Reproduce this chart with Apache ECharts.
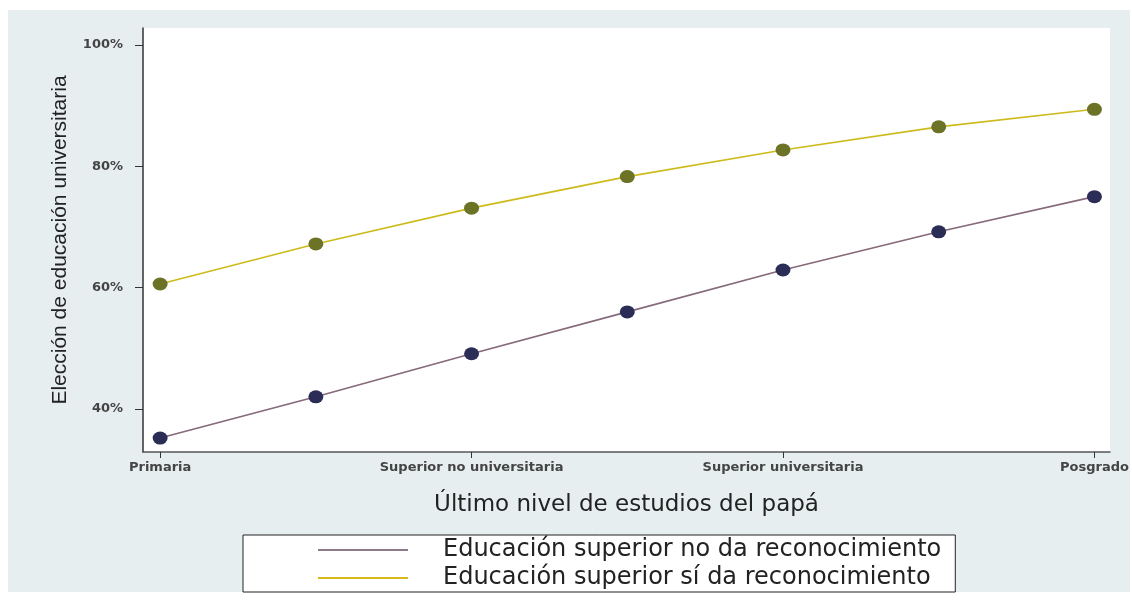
<!DOCTYPE html>
<html>
<head>
<meta charset="utf-8">
<script src="https://cdn.jsdelivr.net/npm/echarts@6/dist/echarts.min.js"></script>
<style>
  body { margin: 0; background: #fff; }
  #bg { position: absolute; left: 8px; top: 10px; width: 1122px; height: 582px; background: #e7eef0; }
  #chart { position: absolute; left: 0; top: 0; width: 1132px; height: 600px; }
</style>
</head>
<body>
<div id="bg"></div>
<div id="chart"></div>
<script>
// niveles del papá (posición en el eje x) y etiquetas de los ticks
var levelX = [1, 1.5, 2, 2.5, 3, 3.5, 4];
var levelTicks = [1, 2, 3, 4];
var levelLabels = ['Primaria', 'Superior no universitaria', 'Superior universitaria', 'Posgrado'];
var yTicks = [40, 60, 80, 100];

var seriesNames = ['Educación superior no da reconocimiento', 'Educación superior sí da reconocimiento'];
var noReconocimiento = [35.2, 42.0, 49.1, 56.0, 62.9, 69.2, 75.0];
var siReconocimiento = [60.6, 67.2, 73.1, 78.3, 82.7, 86.5, 89.4];

function pairs(xs, ys) {
    return xs.map(function (x, i) { return [x, ys[i]]; });
}

var myChart = echarts.init(document.getElementById('chart'));

var option = {
    backgroundColor: 'transparent',
    textStyle: { fontFamily: 'DejaVu Sans' },
    grid: {
        left: 143,
        top: 28,
        right: 22,
        bottom: 148,
        show: true,
        backgroundColor: '#ffffff',
        borderWidth: 0
    },
    xAxis: {
        type: 'value',
        min: 0.945,
        max: 4.05,
        name: 'Último nivel de estudios del papá',
        nameLocation: 'middle',
        nameGap: 42,
        nameTextStyle: { fontSize: 23, color: '#222', fontFamily: 'DejaVu Sans' },
        axisLine: { show: true, onZero: false, lineStyle: { color: '#555', width: 1.5 } },
        axisTick: { show: true, length: 6, customValues: levelTicks, lineStyle: { color: '#333' } },
        axisLabel: {
            customValues: levelTicks,
            margin: 9,
            fontSize: 13,
            fontWeight: 'bold',
            color: '#444',
            formatter: function (v) { return levelLabels[Math.round(v) - 1]; }
        },
        splitLine: { show: false }
    },
    yAxis: {
        type: 'value',
        min: 32.9,
        max: 102.8,
        name: 'Elección de educación universitaria',
        nameLocation: 'middle',
        nameGap: 72,
        nameTextStyle: { fontSize: 21, color: '#222', fontFamily: 'Liberation Sans' },
        axisLine: { show: true, lineStyle: { color: '#333', width: 1.5 } },
        axisTick: { show: true, length: 8, customValues: yTicks, lineStyle: { color: '#333' } },
        axisLabel: {
            customValues: yTicks,
            margin: 20,
            fontSize: 13,
            fontWeight: 'bold',
            color: '#444',
            formatter: function (v) { return v + '%'; }
        },
        splitLine: { show: false }
    },
    legend: {
        orient: 'vertical',
        left: 243,
        top: 535,
        padding: [3, 14, 2, 75],
        itemGap: 4,
        itemWidth: 90,
        itemHeight: 2,
        icon: 'rect',
        borderColor: '#222',
        borderWidth: 1,
        backgroundColor: '#ffffff',
        borderRadius: 0,
        textStyle: { fontSize: 24, color: '#222', fontFamily: 'DejaVu Sans', padding: [0, 0, 0, 30] },
        data: [
            { name: seriesNames[0], itemStyle: { color: '#8f7a8c' } },
            { name: seriesNames[1], itemStyle: { color: '#d8b81a' } }
        ]
    },
    series: [
        {
            name: seriesNames[0],
            type: 'line',
            data: pairs(levelX, noReconocimiento),
            symbol: 'circle',
            symbolSize: [15, 13],
            lineStyle: { color: '#86697a', width: 1.6 },
            itemStyle: { color: '#2c2d57' }
        },
        {
            name: seriesNames[1],
            type: 'line',
            data: pairs(levelX, siReconocimiento),
            symbol: 'circle',
            symbolSize: [15, 13],
            lineStyle: { color: '#cdbb1c', width: 1.6 },
            itemStyle: { color: '#6c7226' }
        }
    ]
};

myChart.setOption(option);
window.addEventListener('resize', function () {
    myChart.resize();
});
</script>
</body>
</html>
